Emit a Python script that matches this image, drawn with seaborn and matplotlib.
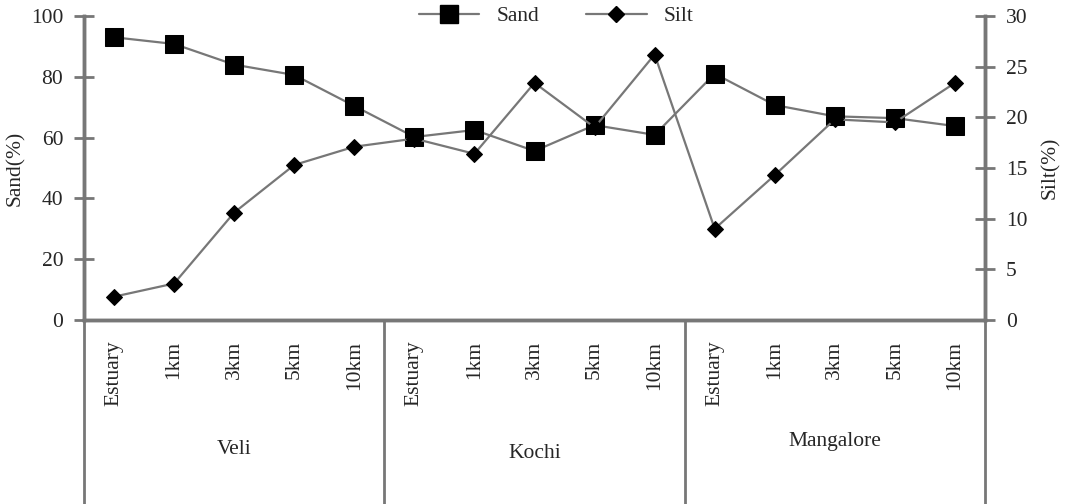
import pandas as pd
import seaborn as sns
import matplotlib.pyplot as plt
from matplotlib.lines import Line2D

# data
sites = ["Veli", "Kochi", "Mangalore"]
stations = ["Estuary", "1km", "3km", "5km", "10km"]
sand = [93.0, 90.8, 84.0, 80.6, 70.4,
        60.2, 62.5, 55.6, 64.1, 60.9,
        81.0, 70.7, 67.0, 66.4, 63.8]
silt = [2.3, 3.6, 10.6, 15.3, 17.1,
        17.9, 16.4, 23.4, 19.0, 26.2,
        9.0, 14.3, 19.8, 19.5, 23.4]

labels = [s for _ in sites for s in stations]
df = pd.DataFrame({"pos": range(len(labels)), "label": labels,
                   "Sand": sand, "Silt": silt})

sns.set_style("white")
plt.rcParams['font.family'] = ['Liberation Serif', 'DejaVu Serif']

grey = "#777777"
fig = plt.figure(figsize=(10.65, 5.04), dpi=100)
ax = fig.add_axes([84 / 1065, 1 - 320 / 504, 901 / 1065, 304 / 504])
ax2 = ax.twinx()

sns.lineplot(data=df, x="pos", y="Sand", ax=ax, color=grey, lw=1.6,
             marker="s", markersize=13, markerfacecolor="black",
             markeredgecolor="black", zorder=3)
sns.lineplot(data=df, x="pos", y="Silt", ax=ax2, color=grey, lw=1.6,
             marker="D", markersize=8, markerfacecolor="black",
             markeredgecolor="black", zorder=3)

ax.set_xlim(-0.5, len(labels) - 0.5)
ax.set_ylim(0, 100)
ax2.set_ylim(0, 30)
ax.set_yticks(range(0, 101, 20))
ax2.set_yticks(range(0, 31, 5))

ax.set_xticks(df["pos"])
ax.set_xticklabels(df["label"], rotation=90, fontsize=15.5)
ax.tick_params(axis="x", length=0, pad=15)
ax2.tick_params(axis="x", length=0)
ax.tick_params(axis="y", direction="inout", length=14, width=2,
               color=grey, labelsize=15.5, pad=8)
ax2.tick_params(axis="y", direction="inout", length=14, width=2,
                color=grey, labelsize=15.5, pad=8)

ax.set_xlabel("")
ax.set_ylabel("Sand(%)", fontsize=15.5, labelpad=4)
ax2.set_ylabel("Silt(%)", fontsize=15.5, labelpad=10)

for a in (ax, ax2):
    a.spines["top"].set_visible(False)
    for side in ("left", "right", "bottom"):
        a.spines[side].set_color(grey)
        a.spines[side].set_linewidth(2.5)

# group dividers and site names under the axis
bottom = -(504 - 320) / 304
for xv in [-0.5, 4.5, 9.5, 14.5]:
    ax.plot([xv, xv], [0, bottom], transform=ax.get_xaxis_transform(),
            color=grey, lw=2, clip_on=False)
site_y = [-0.425, -0.438, -0.40]
for i, (name, yy) in enumerate(zip(sites, site_y)):
    ax.text(i * 5 + 2, yy, name, transform=ax.get_xaxis_transform(),
            ha="center", va="center", fontsize=15.5)

handles = [Line2D([], [], color=grey, lw=1.6, marker="s", markersize=13,
                  markerfacecolor="black", markeredgecolor="black"),
           Line2D([], [], color=grey, lw=1.6, marker="D", markersize=8,
                  markerfacecolor="black", markeredgecolor="black")]
ax.legend(handles, ["Sand", "Silt"], loc="center", ncol=2, frameon=False,
          bbox_to_anchor=(0.524, 1.0), fontsize=15.5, handlelength=2.8,
          columnspacing=2.2)

plt.savefig("out.png", dpi=100)
